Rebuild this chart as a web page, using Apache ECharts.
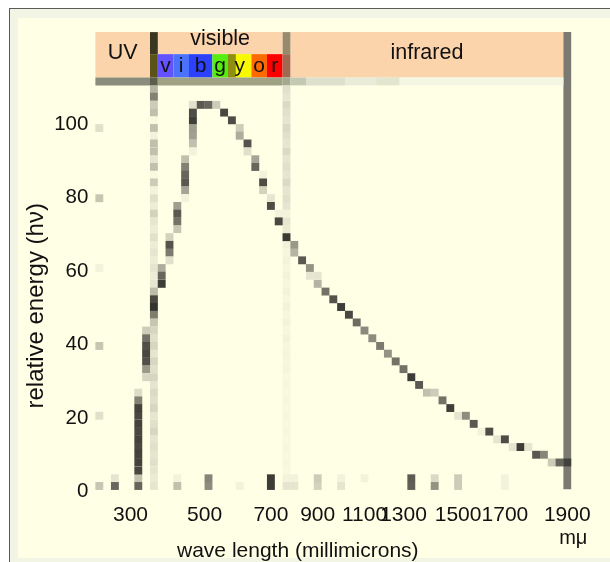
<!DOCTYPE html>
<html><head><meta charset="utf-8">
<script src="https://cdn.jsdelivr.net/npm/echarts@6/dist/echarts.min.js"></script>
<style>
html,body{margin:0;padding:0;width:610px;height:562px;overflow:hidden;background:#fff;}
#frame{position:absolute;left:9px;top:8px;width:640px;height:600px;border-left:1px solid #5a5a5a;border-top:1px solid #5a5a5a;background:#f2f4e4;}
#panel{position:absolute;left:18px;top:18px;width:620px;height:540px;background:#ffffe6;}
#chart{position:absolute;left:0;top:0;width:610px;height:562px;}
</style></head><body>
<div id="frame"></div><div id="panel"></div><div id="chart"></div>
<script>
// ---- tick labels ----
const xTickCols   = [4, 13.5, 22, 28, 34, 39, 46, 52, 60];
const xTickLabels = ['300','500','700','900','1100','1300','1500','1700','1900'];
const yTicks      = [0, 20, 40, 60, 80, 100];

// relative energy at the centre of each raster row (top to bottom)
const cellEnergies = [109.5,107.4,105.2,103.1,101.0,98.9,96.8,94.7,92.5,90.4,88.3,86.2,84.1,82.0,79.8,77.7,75.6,73.5,71.4,69.2,67.1,65.0,62.9,60.8,58.7,56.5,54.4,52.3,50.2,48.1,46.0,43.8,41.7,39.6,37.5,35.4,33.3,31.1,29.0,26.9,24.8,22.7,20.6,18.4,16.3,14.2,12.1,10.0,7.9,5.7,3.6,1.5];

// curve raster cells: [column, relative energy, darkness]
const curveCells = [
 [5,26.9,.17],[5,24.8,.62],[5,22.7,.92],[5,20.6,.9],[5,18.4,.92],[5,16.3,.9],[5,14.2,.92],[5,12.1,.9],[5,10.0,.92],[5,7.9,.92],[5,5.7,.9],
 [6,43.8,.25],[6,41.7,.7],[6,39.6,.85],[6,37.5,.9],[6,35.4,.85],[6,33.3,.5],[6,31.1,.2],
 [7,54.4,.3],[7,52.3,.85],[7,50.2,.95],[7,48.1,.6],[7,46.0,.25],
 [8,60.8,.4],[8,58.7,.75],[8,56.5,.95],
 [9,69.2,.22],[9,67.1,.84],[9,65.0,.65],[9,62.9,.15],
 [10,77.7,.47],[10,75.6,.81],[10,73.5,.69],[10,71.4,.28],
 [11,90.4,.31],[11,88.3,.62],[11,86.2,.75],[11,84.1,.81],[11,82.0,.44],[11,79.8,.06],
 [12,105.2,.14],[12,103.1,.87],[12,101.0,.94],[12,98.9,.47],[12,96.8,.46],[12,94.7,.31],[12,92.5,.06],
 [13,105.2,.81],[14,105.2,.75],[15,105.2,.25],[16,103.1,.9],[17,101.0,.87],
 [18,98.9,.25],[18,96.8,.4],[19,94.7,.84],[19,92.5,.15],[20,90.4,.44],[20,88.3,.75],
 [21,86.2,.06],[21,84.1,.87],[21,82.0,.22],[22,79.8,.12],[22,77.7,.87],[23,75.6,.06],[23,73.5,.9],
 [24,69.2,.94],[25,67.1,.5],[25,65.0,.37],[26,62.9,.81],[27,60.8,.53],[27,58.7,.12],[28,58.7,.12],[28,56.5,.37],
 [29,54.4,.69],[30,52.3,.84],[31,50.2,.95],[32,48.1,.9],[33,46.0,.72],[34,43.8,.58],[35,41.7,.56],
 [36,39.6,.65],[37,37.5,.53],[38,35.4,.69],[39,33.3,.69],[40,31.1,.95],[41,29.0,.81],
 [42,26.9,.31],[43,26.9,.25],[44,24.8,.69],[45,22.7,.94],[46,20.6,.12],[47,20.6,.56],[48,18.4,.81],
 [49,16.3,.06],[50,16.3,.87],[51,14.2,.12],[52,14.2,.87],[53,12.1,.12],[54,12.1,.95],[55,12.1,.12],
 [56,10.0,.81],[57,10.0,.59],[58,7.9,.25],[59,7.9,.75],[60,7.9,.8]
];

// cells along the zero line: [column, relative energy, darkness]
const baselineCells = [
 [0,1.5,.28],[2,3.6,.12],[2,1.5,.75],[5,3.6,.3],[5,1.5,.75],[10,3.6,.06],[10,1.5,.31],
 [14,3.6,.6],[14,1.5,.56],[18,1.5,.06],[22,3.6,.95],[22,1.5,.95],[25,3.6,.06],[25,1.5,.12],
 [28,3.6,.25],[28,1.5,.22],[31,3.6,.06],[31,1.5,.12],[34,3.6,.06],[40,3.6,.8],[40,1.5,.78],
 [43,3.6,.18],[43,1.5,.53],[46,3.6,.25],[46,1.5,.25],[52,3.6,.06],[52,1.5,.06]
];

// tick cells at the left edge: [column, relative energy, darkness]
const tickCells = [[0,98.9,.15],[0,79.8,.28],[0,60.8,.06],[0,39.6,.28],[0,20.6,.15]];

// darkness of the UV/visible boundary column and the visible/infrared boundary column, row by row
const uvEdgeShades = [.37,.62,.25,.31,.03,.31,.06,.31,.31,.12,.31,.03,.25,.06,.15,.09,.22,.12,.09,.15,.09,.12,.09,.12,.09,.12,.15,.2,.2,.2,.15,.2,.15,.2,.12,.2,.15,.2,.12,.18,.15,.2,.12,.15,.2,.12,.15,.12,.15,.12,.1,.12];
const irEdgeShades = [.15,.12,.18,.15,.12,.18,.15,.12,.18,.12,.15,.12,.18,.12,.15,.12,.06,.12,.1,.1,.06,.04,.06,.04,.06,.04,.06,.04,.06,.04,.06,.04,.06,.04,.05,.04,.05,.03,.04,.03,.04,.03,.04,.03,.04,.03,.04,.03,.04,.03,.06,.12];
const uvEdgeCol = 7, irEdgeCol = 24;

// spectrum bands
const bands = [
  {name:'UV', from:-0.5, to:6.5},
  {name:'visible', from:7.5, to:23.5},
  {name:'infrared', from:24.5, to:59.5}
];
const visibleLetters = ['v','i','b','g','y','o','r'];
const visibleRanges  = [[7.5,9.5],[9.5,11.5],[11.5,14.5],[14.5,16.5],[16.5,19.5],[19.5,21.5],[21.5,23.5]];
const visibleColors  = ['#6552ff','#4a72fa','#2d40fb','#56ee0e','#f8f800','#ff6a00','#ff0000'];

const edgeCells = [];
uvEdgeShades.forEach((s,i)=>edgeCells.push([uvEdgeCol, cellEnergies[i], s]));
irEdgeShades.forEach((s,i)=>edgeCells.push([irEdgeCol, cellEnergies[i], s]));

const FONT = '"Liberation Sans", Arial, sans-serif';
const HEAD_LO = 112.65, SWATCH_TOP = 119, TOP = 125, BAND_LO = 110.5;
const INK = '#111';

const peach = '#fcd4ac';
const marks = [];
bands.forEach(b=>{
  if (b.name === 'visible') {
    marks.push([{xAxis:b.from, yAxis:SWATCH_TOP, name:b.name, itemStyle:{color:peach},
      label:{show:true, position:'inside', offset:[0,-4], fontSize:21.5, color:INK, fontFamily:FONT}},
      {xAxis:b.to, yAxis:TOP}]);
  } else {
    marks.push([{xAxis:b.from, yAxis:HEAD_LO, name:b.name, itemStyle:{color:peach},
      label:{show:true, position:'inside', offset:[0,-2], fontSize:21.5, color:INK, fontFamily:FONT}},
      {xAxis:b.to, yAxis:TOP}]);
  }
});
visibleLetters.forEach((l,i)=>{
  marks.push([{xAxis:visibleRanges[i][0], yAxis:HEAD_LO, name:l, itemStyle:{color:visibleColors[i]},
    label:{show:true, position:'inside', fontSize:21, color:INK, fontFamily:FONT}},
    {xAxis:visibleRanges[i][1], yAxis:SWATCH_TOP}]);
});
// olive sliver between green and yellow
marks.push([{xAxis:16.5, yAxis:HEAD_LO, itemStyle:{color:'#8e8e12'}},{xAxis:17.5, yAxis:SWATCH_TOP}]);
// boundary columns inside header
marks.push([{xAxis:6.5, yAxis:SWATCH_TOP, itemStyle:{color:'#3a3620'}},{xAxis:7.5, yAxis:TOP}]);
marks.push([{xAxis:6.5, yAxis:HEAD_LO, itemStyle:{color:'#5a5216'}},{xAxis:7.5, yAxis:SWATCH_TOP}]);
marks.push([{xAxis:23.5, yAxis:SWATCH_TOP, itemStyle:{color:'#9a8a6c'}},{xAxis:24.5, yAxis:TOP}]);
marks.push([{xAxis:23.5, yAxis:HEAD_LO, itemStyle:{color:'#a06a52'}},{xAxis:24.5, yAxis:SWATCH_TOP}]);
// right boundary column
marks.push([{xAxis:59.5, yAxis:0.6, itemStyle:{color:'#7a7a72'}},{xAxis:60.5, yAxis:TOP}]);
// grey band under the header
const bandRow = [[-0.5,6.5,'#8a8c7c'],[6.5,7.5,'#5c5c4a'],[7.5,23.5,'#a0a284'],[23.5,24.5,'#a4aa92'],
  [24.5,26.5,'#c4cab2'],[26.5,31.5,'#dce0cc'],[31.5,35.5,'#e8ecd8'],[35.5,38.5,'#e2e6cf'],[38.5,59.5,'#f4f7e2']];
bandRow.forEach(s=>marks.push([{xAxis:s[0], yAxis:BAND_LO, itemStyle:{color:s[2]}},{xAxis:s[1], yAxis:HEAD_LO}]));

const cellStyle = {type:'scatter', symbol:'rect', symbolSize:[7.9,7.9], z:3, silent:true, animation:false};

const chart = echarts.init(document.getElementById('chart'), null, {renderer:'canvas'});
chart.setOption({
  backgroundColor:'transparent',
  animation:false,
  grid:{left:95.4, right:38.8, top:32.1, bottom:70.5, outerBoundsMode:'none', containLabel:false},
  xAxis:{type:'value', min:-0.5, max:60.5,
    name:'wave length (millimicrons)', nameLocation:'middle', nameGap:49.5, nameMoveOverlap:false,
    nameTextStyle:{fontSize:21, color:INK, fontFamily:FONT, padding:[0,71,0,0]},
    axisLine:{show:false}, axisTick:{show:false}, splitLine:{show:false},
    axisLabel:{customValues:xTickCols, margin:12, fontSize:21, color:INK, fontFamily:FONT, lineHeight:23,
      formatter:v=>{const i=xTickCols.indexOf(v); if(i<0) return ''; return i===xTickLabels.length-1 ? xTickLabels[i]+'\n{u|mμ}' : xTickLabels[i];},
      rich:{u:{fontSize:20, color:INK, fontFamily:FONT, padding:[0,0,0,12]}}}},
  yAxis:{type:'value', min:0, max:TOP,
    name:'relative energy (hν)', nameLocation:'middle', nameGap:47, nameMoveOverlap:false,
    nameTextStyle:{fontSize:24, color:INK, fontFamily:FONT, padding:[0,88,0,0]},
    axisLine:{show:false}, axisTick:{show:false}, splitLine:{show:false},
    axisLabel:{customValues:yTicks, margin:7, fontSize:20.5, color:INK, fontFamily:FONT}},
  visualMap:{show:false, type:'continuous', dimension:2, min:0, max:1, seriesIndex:[1,2,3,4],
    inRange:{color:['#ffffe6','#000000']}},
  series:[
    {type:'scatter', data:[], z:1, silent:true, markArea:{silent:true, data:marks}},
    Object.assign({name:'edges', data:edgeCells}, cellStyle),
    Object.assign({name:'ticks', data:tickCells}, cellStyle),
    Object.assign({name:'baseline', data:baselineCells}, cellStyle),
    Object.assign({name:'curve', data:curveCells, z:4}, cellStyle)
  ]
});
</script></body></html>
